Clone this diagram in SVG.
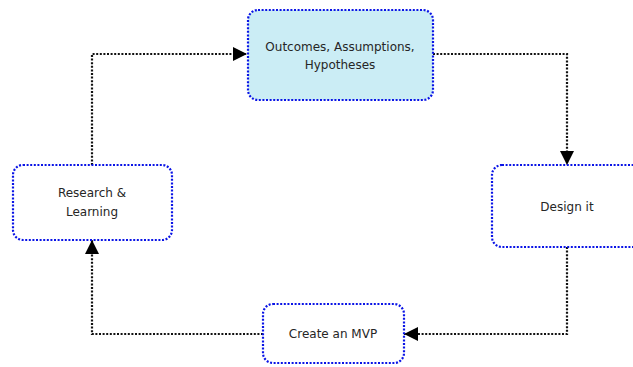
<svg xmlns="http://www.w3.org/2000/svg" width="633" height="367" viewBox="0 0 633 367">
  <style>
    .box { fill: #ffffff; stroke: #0a14e6; stroke-width: 2.2; stroke-dasharray: 2 1.6; }
    .box.hl { fill: #cbedf5; }
    .lbl { font-family: "DejaVu Sans", "Liberation Sans", sans-serif; font-size: 12px; fill: #262626; text-anchor: middle; }
    .wire { fill: none; stroke: #111111; stroke-width: 2.2; stroke-dasharray: 2 1.6; }
  </style>
  <defs>
    <marker id="tri" viewBox="0 0 14 14" refX="14" refY="7" markerWidth="14" markerHeight="14" markerUnits="userSpaceOnUse" orient="auto">
      <path d="M0,0 L14,7 L0,14 Z" fill="#000000"/>
    </marker>
  </defs>
  <rect width="633" height="367" fill="#ffffff"/>

  <g id="connectors">
    <path class="wire" d="M92,165 V54 H247" marker-end="url(#tri)"/>
    <path class="wire" d="M433,54 H567 V165" marker-end="url(#tri)"/>
    <path class="wire" d="M567,247 V334 H404" marker-end="url(#tri)"/>
    <path class="wire" d="M263,334 H92 V240" marker-end="url(#tri)"/>
  </g>

  <g id="outcomes">
    <rect class="box hl" x="248" y="10" width="185" height="90" rx="10"/>
    <text class="lbl" x="340" y="51">Outcomes, Assumptions,</text>
    <text class="lbl" x="340" y="69">Hypotheses</text>
  </g>

  <g id="design">
    <rect class="box" x="492" y="165" width="160" height="82" rx="10"/>
    <text class="lbl" x="567" y="211">Design it</text>
  </g>

  <g id="mvp">
    <rect class="box" x="263" y="304" width="141" height="59" rx="10"/>
    <text class="lbl" x="333" y="338">Create an MVP</text>
  </g>

  <g id="research">
    <rect class="box" x="13" y="165" width="159" height="75" rx="10"/>
    <text class="lbl" x="92" y="197">Research &amp;</text>
    <text class="lbl" x="92" y="216">Learning</text>
  </g>
</svg>
